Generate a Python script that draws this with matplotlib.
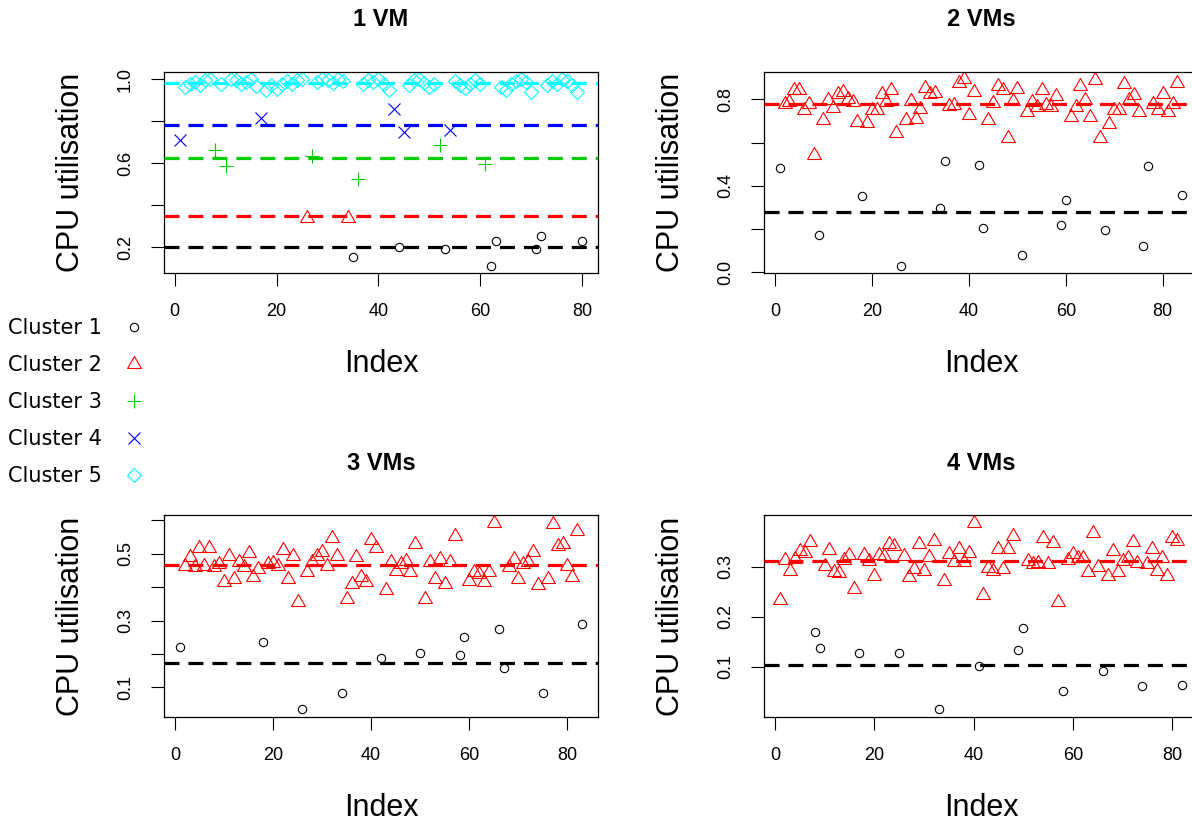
import numpy as np
import matplotlib
matplotlib.use('Agg')
import matplotlib.pyplot as plt
from matplotlib.lines import Line2D

plt.rcParams['font.family'] = ['Liberation Sans', 'DejaVu Sans']

titles = ['1 VM', '2 VMs', '3 VMs', '4 VMs']
cluster_names = ['Cluster 1', 'Cluster 2', 'Cluster 3', 'Cluster 4', 'Cluster 5']

# cluster id and CPU utilisation for every index (1..N)
vm1_cluster = [4, 5, 5, 5, 5, 5, 5, 3, 5, 3,
               5, 5, 5, 5, 5, 5, 4, 5, 5, 5,
               5, 5, 5, 5, 5, 2, 3, 5, 5, 5,
               5, 5, 5, 2, 1, 3, 5, 5, 5, 5,
               5, 5, 4, 1, 4, 5, 5, 5, 5, 5,
               5, 3, 1, 4, 5, 5, 5, 5, 5, 5,
               3, 1, 1, 5, 5, 5, 5, 5, 5, 5,
               1, 1, 5, 5, 5, 5, 5, 5, 5, 1]
vm1_util = [0.712, 0.964, 0.977, 0.988, 0.972, 0.996, 1.000, 0.664, 0.980, 0.586,
            1.000, 0.998, 0.977, 0.988, 1.000, 0.967, 0.817, 0.948, 0.972, 0.956,
            0.980, 0.993, 0.977, 0.996, 1.000, 0.339, 0.634, 0.988, 1.000, 0.996,
            0.983, 1.000, 0.993, 0.342, 0.152, 0.527, 0.977, 0.996, 0.988, 1.000,
            0.980, 0.951, 0.857, 0.200, 0.750, 0.972, 0.996, 1.000, 0.983, 0.964,
            0.977, 0.687, 0.190, 0.758, 0.993, 0.972, 0.961, 0.980, 0.996, 0.977,
            0.599, 0.112, 0.230, 0.964, 0.948, 0.980, 0.993, 1.000, 0.988, 0.940,
            0.190, 0.256, 0.972, 0.993, 0.980, 1.000, 0.993, 0.972, 0.940, 0.232]
vm1_means = [0.200, 0.348, 0.627, 0.783, 0.983]

vm2_cluster = [1, 2, 2, 2, 2, 2, 2, 2, 1, 2,
               2, 2, 2, 2, 2, 2, 2, 1, 2, 2,
               2, 2, 2, 2, 2, 1, 2, 2, 2, 2,
               2, 2, 2, 1, 1, 2, 2, 2, 2, 2,
               2, 1, 1, 2, 2, 2, 2, 2, 2, 2,
               1, 2, 2, 2, 2, 2, 2, 2, 1, 1,
               2, 2, 2, 2, 2, 2, 2, 1, 2, 2,
               2, 2, 2, 2, 2, 1, 1, 2, 2, 2,
               2, 2, 2, 1]
vm2_util = [0.482, 0.781, 0.789, 0.846, 0.846, 0.750, 0.778, 0.541, 0.175, 0.703,
            0.799, 0.762, 0.824, 0.835, 0.804, 0.789, 0.696, 0.351, 0.691, 0.753,
            0.753, 0.824, 0.789, 0.846, 0.645, 0.030, 0.703, 0.793, 0.711, 0.758,
            0.855, 0.827, 0.830, 0.298, 0.515, 0.768, 0.773, 0.877, 0.893, 0.730,
            0.835, 0.498, 0.206, 0.703, 0.784, 0.861, 0.846, 0.622, 0.793, 0.850,
            0.082, 0.742, 0.789, 0.765, 0.846, 0.773, 0.765, 0.815, 0.221, 0.335,
            0.719, 0.765, 0.861, 0.799, 0.719, 0.889, 0.622, 0.196, 0.688, 0.750,
            0.750, 0.870, 0.799, 0.820, 0.742, 0.121, 0.490, 0.781, 0.750, 0.824,
            0.742, 0.781, 0.874, 0.359]
vm2_means = [0.281, 0.777]

vm3_cluster = [1, 2, 2, 2, 2, 2, 2, 2, 2, 2,
               2, 2, 2, 2, 2, 2, 2, 1, 2, 2,
               2, 2, 2, 2, 2, 1, 2, 2, 2, 2,
               2, 2, 2, 1, 2, 2, 2, 2, 2, 2,
               2, 1, 2, 2, 2, 2, 2, 2, 2, 1,
               2, 2, 2, 2, 2, 2, 2, 1, 1, 2,
               2, 2, 2, 2, 2, 1, 1, 2, 2, 2,
               2, 2, 2, 2, 1, 2, 2, 2, 2, 2,
               2, 2, 1]
vm3_util = [0.222, 0.464, 0.489, 0.459, 0.518, 0.464, 0.518, 0.459, 0.469, 0.415,
            0.494, 0.424, 0.474, 0.459, 0.501, 0.429, 0.454, 0.236, 0.469, 0.471,
            0.464, 0.510, 0.424, 0.494, 0.355, 0.034, 0.444, 0.474, 0.494, 0.504,
            0.464, 0.548, 0.494, 0.083, 0.365, 0.410, 0.489, 0.429, 0.415, 0.540,
            0.516, 0.187, 0.390, 0.474, 0.449, 0.469, 0.479, 0.444, 0.528, 0.202,
            0.365, 0.474, 0.424, 0.484, 0.410, 0.474, 0.553, 0.197, 0.251, 0.419,
            0.444, 0.439, 0.415, 0.444, 0.593, 0.276, 0.157, 0.459, 0.484, 0.424,
            0.469, 0.474, 0.504, 0.405, 0.083, 0.424, 0.588, 0.523, 0.528, 0.464,
            0.429, 0.568, 0.291]
vm3_means = [0.172, 0.465]

vm4_cluster = [2, 2, 2, 2, 2, 2, 2, 1, 1, 2,
               2, 2, 2, 2, 2, 2, 1, 2, 2, 2,
               2, 2, 2, 2, 1, 2, 2, 2, 2, 2,
               2, 2, 1, 2, 2, 2, 2, 2, 2, 2,
               1, 2, 2, 2, 2, 2, 2, 2, 1, 1,
               2, 2, 2, 2, 2, 2, 2, 1, 2, 2,
               2, 2, 2, 2, 2, 1, 2, 2, 2, 2,
               2, 2, 2, 1, 2, 2, 2, 2, 2, 2,
               2, 1]
vm4_util = [0.233, 0.313, 0.291, 0.315, 0.332, 0.328, 0.350, 0.170, 0.137, 0.302,
            0.333, 0.289, 0.287, 0.313, 0.324, 0.256, 0.127, 0.324, 0.311, 0.282,
            0.324, 0.322, 0.345, 0.342, 0.127, 0.322, 0.280, 0.295, 0.345, 0.292,
            0.320, 0.351, 0.015, 0.272, 0.325, 0.309, 0.335, 0.309, 0.328, 0.388,
            0.101, 0.243, 0.297, 0.292, 0.335, 0.295, 0.335, 0.361, 0.134, 0.177,
            0.312, 0.305, 0.307, 0.358, 0.305, 0.348, 0.229, 0.051, 0.313, 0.325,
            0.318, 0.318, 0.289, 0.368, 0.299, 0.091, 0.282, 0.332, 0.289, 0.312,
            0.318, 0.350, 0.307, 0.061, 0.305, 0.335, 0.292, 0.318, 0.282, 0.358,
            0.351, 0.064]
vm4_means = [0.104, 0.312]

x_ticks = [0, 20, 40, 60, 80]
vm1_yticks = [0.2, 0.4, 0.6, 0.8, 1.0]
vm1_ylabels = ['0.2', '', '0.6', '', '1.0']
vm2_yticks = [0.0, 0.2, 0.4, 0.6, 0.8]
vm2_ylabels = ['0.0', '', '0.4', '', '0.8']
vm3_yticks = [0.1, 0.2, 0.3, 0.4, 0.5, 0.6]
vm3_ylabels = ['0.1', '', '0.3', '', '0.5', '']
vm4_yticks = [0.1, 0.2, 0.3]
vm4_ylabels = ['0.1', '0.2', '0.3']

# R-like point styles (pch 1..5)
colors = ['black', 'red', '#00CD00', 'blue', 'cyan']
tri = [(-0.866, -0.5), (0.866, -0.5), (0.0, 1.0), (-0.866, -0.5)]
markers = ['o', tri, '+', 'x', 'D']
sizes = [6.0, 11.5, 9.4, 8.4, 7.6]


def style(k):
    return dict(ls='none', marker=markers[k], ms=sizes[k], mfc='none',
                mec=colors[k], mew=0.8)


def draw_panel(ax, title, cluster, util, means, yticks, ylabels):
    cluster = np.array(cluster)
    util = np.array(util)
    idx = np.arange(1, len(util) + 1)
    for k in np.unique(cluster):
        m = cluster == k
        ax.plot(idx[m], util[m], zorder=2, **style(k - 1))
    for k, mu in enumerate(means):
        ax.axhline(mu, color=colors[k], lw=2.3, dashes=(4.7, 2.8), zorder=3)

    # R style axis ranges (4% padding)
    n = len(util)
    ext = 0.04 * (n - 1)
    ax.set_xlim(1 - ext, n + ext)
    lo, hi = util.min(), util.max()
    e = 0.04 * (hi - lo)
    ax.set_ylim(lo - e, hi + e)

    ax.set_xticks(x_ticks)
    ax.set_yticks(yticks)
    ax.set_yticklabels(ylabels)
    ax.tick_params(direction='out', length=9.5, width=0.8, labelsize=13,
                   top=False, right=False)
    ax.tick_params(axis='x', pad=12)
    ax.tick_params(axis='y', pad=12, labelrotation=90)
    for lab in ax.get_yticklabels():
        lab.set_va('center')
    for sp in ax.spines.values():
        sp.set_linewidth(0.9)

    h = ax.get_position().height * 825
    ax.text(0.5, 1 + 52 / h, title, transform=ax.transAxes, ha='center',
            va='center', fontsize=17, fontweight='bold')
    ax.set_xlabel('Index', fontsize=22, va='center')
    ax.xaxis.set_label_coords(0.5, -91 / h)
    ax.set_ylabel('CPU utilisation', fontsize=22, va='center')
    ax.yaxis.set_label_coords(-93 / 434.6, 0.5)


fig = plt.figure(figsize=(11.92, 8.25), dpi=100)
W, H = 1192.0, 825.0
col_left = [163.7, 763.7]
row_bottom = [273.3, 716.7]
aw, ah = 434.6, 201.4

panels = [
    (vm1_cluster, vm1_util, vm1_means, vm1_yticks, vm1_ylabels),
    (vm2_cluster, vm2_util, vm2_means, vm2_yticks, vm2_ylabels),
    (vm3_cluster, vm3_util, vm3_means, vm3_yticks, vm3_ylabels),
    (vm4_cluster, vm4_util, vm4_means, vm4_yticks, vm4_ylabels),
]
for i, (cl, ut, mu, yt, yl) in enumerate(panels):
    r, c = divmod(i, 2)
    ax = fig.add_axes([col_left[c] / W, 1 - row_bottom[r] / H, aw / W, ah / H])
    draw_panel(ax, titles[i], cl, ut, mu, yt, yl)

handles = [Line2D([], [], **style(k)) for k in range(5)]
fig.legend(handles, cluster_names, loc='upper left',
           bbox_to_anchor=(8 / W, 1 - 318 / H), markerfirst=False,
           frameon=False, borderpad=0, borderaxespad=0, handlelength=1.9,
           handletextpad=0.6, labelspacing=0.82,
           prop={'family': 'DejaVu Sans', 'size': 15})

fig.savefig('out.png', dpi=100)
